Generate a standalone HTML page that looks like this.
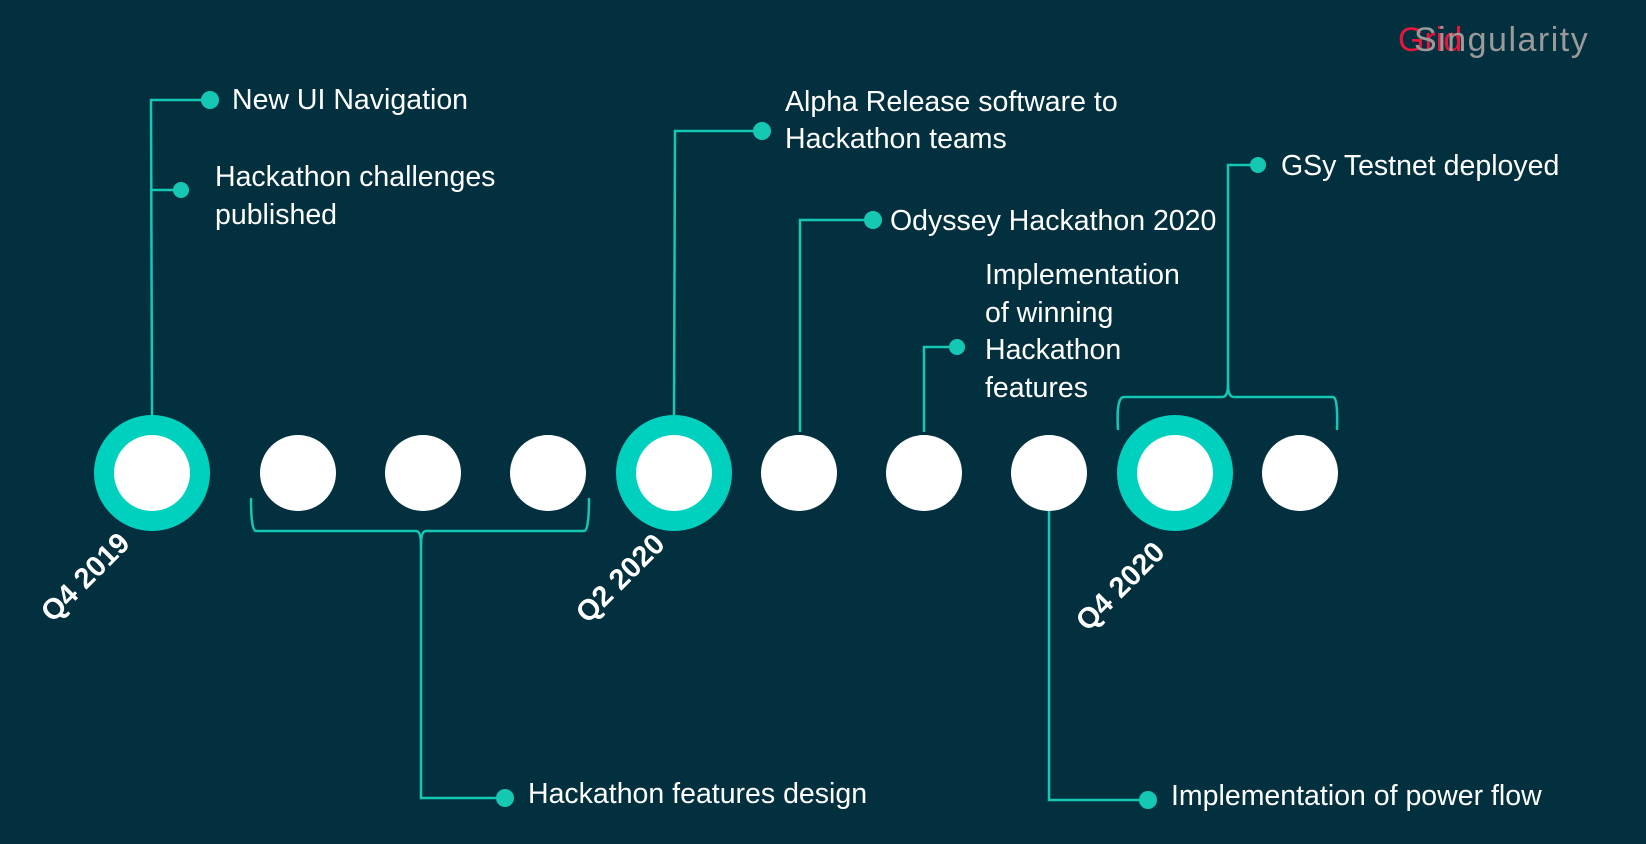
<!DOCTYPE html>
<html><head><meta charset="utf-8"><style>
html,body{margin:0;padding:0;background:#02303f;}
svg{display:block}
text{font-family:"Liberation Sans",sans-serif;fill:#fff;}
</style></head><body>
<svg width="1646" height="844" viewBox="0 0 1646 844" xmlns="http://www.w3.org/2000/svg">
<rect width="1646" height="844" fill="#02303f"/>
<text x="1398" y="51" font-size="34" style="fill:#e8163c">Grid</text>
<text x="1414" y="51" font-size="34" letter-spacing="1.5" style="fill:#9a9a9a">Singularity</text>

<g stroke="#14c8b4" stroke-width="2.5" fill="none">
<polyline points="152,415 151,100 210,100"/>
<line x1="152" y1="190" x2="181" y2="190"/>
<polyline points="674,415 675,131 762,131"/>
<polyline points="800,432 800,220 873,220"/>
<polyline points="924,432 924,347 957,347"/>
<path d="M1118,430 Q1116,397 1124,397 L1222,397 Q1228,397 1228,385 L1228,165 L1258,165"/>
<path d="M1228,385 Q1228,397 1234,397 L1333,397 Q1338,397 1337,430"/>
<path d="M251,498 Q251,531 256,531 L416,531 Q421,531 421,545 L421,798 L505,798"/>
<path d="M421,545 Q421,531 426,531 L584,531 Q589,531 589,498"/>
<polyline points="1049,508 1049,800 1148,800"/>
</g>

<g fill="#14c8b4">
<circle cx="210" cy="100" r="9"/>
<circle cx="181" cy="190" r="8"/>
<circle cx="762" cy="131" r="9"/>
<circle cx="873" cy="220" r="9"/>
<circle cx="957" cy="347" r="8"/>
<circle cx="1258" cy="165" r="8"/>
<circle cx="505" cy="798" r="9"/>
<circle cx="1148" cy="800" r="9"/>
</g>

<g fill="#00d1bf">
<circle cx="152" cy="473" r="58"/>
<circle cx="674" cy="473" r="58"/>
<circle cx="1175" cy="473" r="58"/>
</g>
<g fill="#fff">
<circle cx="152" cy="473" r="38"/>
<circle cx="674" cy="473" r="38"/>
<circle cx="1175" cy="473" r="38"/>
<circle cx="298" cy="473" r="38"/>
<circle cx="423" cy="473" r="38"/>
<circle cx="548" cy="473" r="38"/>
<circle cx="799" cy="473" r="38"/>
<circle cx="924" cy="473" r="38"/>
<circle cx="1049" cy="473" r="38"/>
<circle cx="1300" cy="473" r="38"/>
</g>

<g font-size="28.5">
<text x="232" y="109">New UI Navigation</text>
<text x="215" y="186">Hackathon challenges</text>
<text x="215" y="224">published</text>
<text x="785" y="111">Alpha Release software to</text>
<text x="785" y="148">Hackathon teams</text>
<text x="890" y="230">Odyssey Hackathon 2020</text>
<text x="985" y="284">Implementation</text>
<text x="985" y="322">of winning</text>
<text x="985" y="359">Hackathon</text>
<text x="985" y="397">features</text>
<text x="1281" y="175">GSy Testnet deployed</text>
<text x="528" y="803">Hackathon features design</text>
<text x="1171" y="805">Implementation of power flow</text>
</g>
<g font-size="29" font-weight="bold">
<text x="85" y="587" text-anchor="middle" transform="rotate(-45 85 577)">Q4 2019</text>
<text x="620" y="588" text-anchor="middle" transform="rotate(-45 620 578)">Q2 2020</text>
<text x="1120" y="596" text-anchor="middle" transform="rotate(-45 1120 586)">Q4 2020</text>
</g>
</svg>
</body></html>
